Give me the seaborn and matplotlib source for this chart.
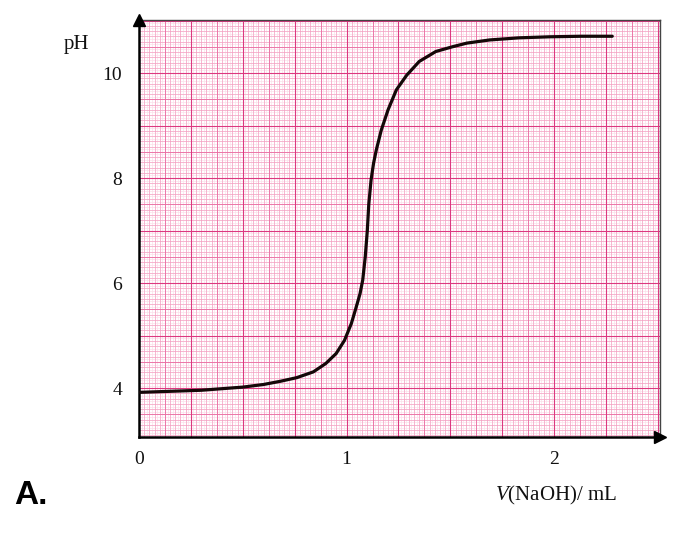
import numpy as np
import matplotlib
matplotlib.use('Agg')
import matplotlib.pyplot as plt
import seaborn as sns

# values
volume_ml = [0, 0.15, 0.3, 0.5, 0.6, 0.68, 0.76, 0.84, 0.90, 0.95, 0.99, 1.023, 1.047,
             1.065, 1.078, 1.09, 1.10, 1.107, 1.118, 1.13, 1.143, 1.167, 1.20, 1.24,
             1.29, 1.35, 1.43, 1.51, 1.58, 1.69, 1.83, 1.98, 2.13, 2.28]
ph_values = [3.92, 3.94, 3.96, 4.02, 4.07, 4.13, 4.20, 4.31, 4.47, 4.66, 4.91, 5.23, 5.55,
             5.80, 6.06, 6.50, 7.00, 7.50, 7.96, 8.28, 8.53, 8.91, 9.30, 9.68,
             9.96, 10.22, 10.41, 10.50, 10.57, 10.63, 10.67, 10.69, 10.70, 10.70]

x_ticks = [0, 0.5, 1, 1.5, 2]
x_tick_labels = ['0', '', '1', '', '2']
y_ticks = [4, 5, 6, 7, 8, 9, 10]
y_tick_labels = ['4', '', '6', '', '8', '', '10']

sns.set_style('white')
plt.rcParams['font.family'] = ['Liberation Serif', 'DejaVu Serif']
plt.rcParams['mathtext.fontset'] = 'custom'
plt.rcParams['mathtext.rm'] = 'Liberation Serif'
plt.rcParams['mathtext.it'] = 'Liberation Serif:italic'
plt.rcParams['text.color'] = '#111111'

fig = plt.figure(figsize=(6.87, 5.43), dpi=100)
ax = fig.add_axes([0.2023, 0.1952, 0.7584, 0.768])

xmin, xmax = 0, 2.51
ymin, ymax = 3.07, 11.01
ax.set_xlim(xmin, xmax)
ax.set_ylim(ymin, ymax)

# graph paper: finest -> major
layers = [
    (0.0125, 0.05, '#fcdfea', 0.5),
    (0.025, 0.1, '#f39cc0', 0.45),
    (0.125, 0.5, '#ea6ea3', 0.6),
    (0.25, 1.0, '#dc3880', 0.8),
]
for dx, dy, col, lw in layers:
    xs = np.arange(0, xmax + 1e-9, dx)
    ys = np.arange(3.0, ymax + 1e-9, dy)
    ys = ys[ys >= ymin]
    ax.vlines(xs, ymin, ymax, colors=col, lw=lw, zorder=0)
    ax.hlines(ys, xmin, xmax, colors=col, lw=lw, zorder=0)

sns.lineplot(x=volume_ml, y=ph_values, ax=ax, color='#140808', lw=2.3, zorder=5,
             solid_joinstyle='round', solid_capstyle='round')

for side in ['top', 'right']:
    ax.spines[side].set_color('#444444')
    ax.spines[side].set_linewidth(1.0)
for side in ['left', 'bottom']:
    ax.spines[side].set_color('black')
    ax.spines[side].set_linewidth(1.8)

# arrow heads on the axes
ax.plot([0], [1], marker='^', markersize=9, color='black', transform=ax.transAxes,
        clip_on=False, zorder=10)
ax.plot([1], [0], marker='>', markersize=9, color='black', transform=ax.transAxes,
        clip_on=False, zorder=10)

ax.set_xticks(x_ticks, x_tick_labels)
ax.set_yticks(y_ticks, y_tick_labels)
ax.tick_params(axis='both', direction='in', length=5, width=1.5, color='black',
               labelsize=14, labelcolor='#111111')
ax.tick_params(axis='y', pad=12)
ax.tick_params(axis='x', pad=10)
ax.set_xlabel('')
ax.set_ylabel('')

fig.text(76 / 687, 1 - 45 / 543, 'pH', fontsize=15, ha='center', va='center')
fig.text(556 / 687, 1 - 495 / 543, r'$\mathit{V}$(NaOH)/ mL', fontsize=15,
         ha='center', va='center')
fig.text(14 / 687, 1 - 495 / 543, 'A.', fontsize=24, fontweight='bold', color='black',
         family=['Liberation Sans', 'DejaVu Sans'], ha='left', va='center')

fig.savefig('out.png', dpi=100)
